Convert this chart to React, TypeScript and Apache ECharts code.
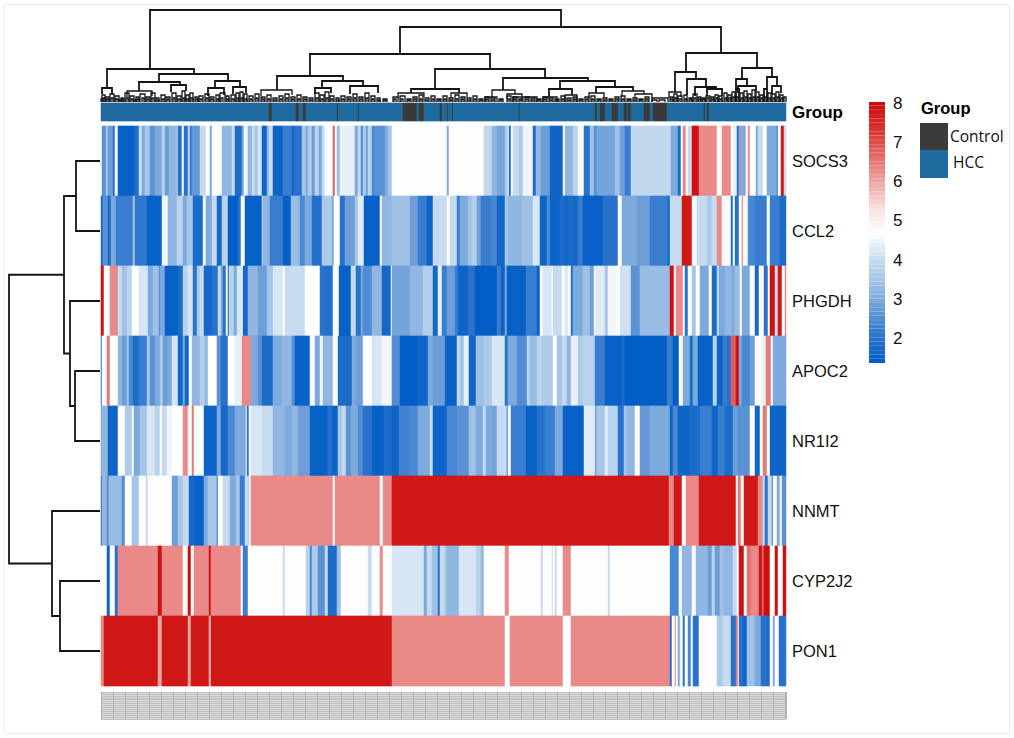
import React, { useEffect, useRef } from "react";
import * as echarts from "echarts";

const sampleCount = 685;
const genes = ["SOCS3", "CCL2", "PHGDH", "APOC2", "NR1I2", "NNMT", "CYP2J2", "PON1"];

// Each row: value, end sample index (exclusive), repeated
const socs3 = [4.7,1,2.6,5,3.5,7,2.8,12,2,14,4.5,17,1.5,34,1.9,38,4,41,3,44,3.5,49,2.6,54,3,61,3.8,64,2.8,68,3.2,76,3.8,77,2,81,4.7,83,2,87,3.8,89,2.2,91,2.7,99,4,105,4.7,109,3,111,4.7,121,3.2,131,4,134,1.8,141,3,143,4.5,147,3.2,151,4,154,3.5,157,4.2,161,1.6,166,3.2,168,4,172,1.6,182,2.2,191,1.6,193,2,201,3.5,205,3,207,3.6,211,2.8,214,3.8,218,3,221,4,224,4.7,232,6.8,234,4.7,236,3.3,239,4.5,241,4.4,254,3,257,4,260,2.4,262,3.6,265,2.8,267,3.8,271,2.4,274,2.6,284,3,287,3.5,291,4.7,346,3,348,4.7,383,3.9,391,3.2,396,2.9,404,3.6,407,4.7,408,1.8,410,4.7,412,4,418,3.6,422,4.5,432,1.8,435,3.2,440,2.8,449,1.6,462,4.7,464,3.2,472,3.8,477,4.6,483,2,489,3.4,493,2.6,496,2.9,514,3.4,519,2.8,524,2.2,530,3.9,570,3,577,1.8,580,4.7,582,6.3,585,4.7,587,4,591,7.9,598,6.3,616,4.7,621,6.3,630,4.7,632,4.4,636,2,638,3,640,6.3,641,3,645,4.7,647,6.3,649,4.7,655,3,657,4,662,4.7,666,3,676,2,677,4.7,680,7.8,683,4,685];
const ccl2 = [1.8,2,2.6,7,1.8,10,3,15,2.2,32,3.5,34,2.1,46,1.5,61,4.5,67,3.2,76,3.8,82,3,86,3.5,92,1.8,102,4.5,105,3,111,4,116,1.7,121,3.8,127,1.4,137,2,140,4.7,144,1.5,161,4,162,3.2,169,2.2,182,1.5,190,3.3,199,2.4,204,3,211,1.9,221,3.6,231,3,233,4.7,239,2,244,2.8,254,3.5,257,4.3,263,1.5,279,4.7,281,3.2,291,3.4,309,2.8,317,2.2,326,1.6,332,4,346,4.7,349,4,356,2.2,359,3,367,3.4,371,3.7,376,2.8,380,2.2,391,2.4,396,1.7,404,3.5,407,3.2,421,3.4,432,4.2,439,1.6,446,2.5,449,1.6,459,1.8,464,1.6,467,1.8,472,1.7,477,2.2,482,1.5,502,2,517,4.7,521,3,536,2.8,549,2.2,567,1.6,569,4,581,7.8,591,4.6,596,4,606,3.6,611,4,616,6.3,621,4.7,630,1.8,632,4.7,634,2,638,4.7,641,6.5,642,4.7,647,2.4,654,2.2,666,4.7,669,2.2,679,1.8,685];
const phgdh = [7.9,3,4.7,9,6.3,17,4,21,3.4,26,3.8,31,4.7,38,4.2,47,3,52,3.4,58,2.4,59,3,64,1.5,77,1.8,82,3.8,87,4.2,92,2,96,3.6,99,4,103,1.7,111,2,117,4,120,3,122,2,125,4.5,127,1.8,128,3.8,133,3,136,4.2,141,4.7,142,1.7,147,3.2,157,2.8,166,3.5,172,4.2,182,4.7,184,4,204,4.7,219,2,224,1.9,232,4.7,238,1.5,250,4,255,2,260,3,262,2.5,271,3.2,281,1.7,290,4.7,291,2.9,309,3.2,322,3.7,332,1.7,337,4.4,341,2.2,346,2.8,354,2.2,357,1.6,367,2,374,1.4,396,2.2,400,1.6,404,3,406,1.5,425,2.2,436,1.5,439,4.7,442,4.2,451,4.7,452,4,461,4.7,464,4.2,467,4.7,470,2,472,3,482,3.4,489,2.8,493,4.7,494,4.3,504,3.5,507,4.5,516,4.7,519,4.1,530,2.6,539,3.3,569,7.9,573,4.7,575,6.3,582,4.7,584,2,587,4.7,591,3.5,595,4.7,599,3,608,4.7,611,1.8,616,4,618,3,624,3.2,631,3,634,3.3,639,4.7,641,3,649,4.7,654,1.7,658,4.7,663,2,667,4.7,669,7.9,674,4,677,7.8,681,4.7,684,6.3,685];
const apoc2 = [2,1,4.7,6,6.5,9,4.7,17,3.2,21,2.8,26,3.5,28,2.4,32,1.8,38,2.2,46,3.5,49,2.6,54,3,59,3.6,62,2.8,67,3,71,4.2,77,1.7,82,3,84,1.6,88,4.7,91,3.2,99,3.7,104,3.2,107,4.7,116,2.6,120,2,127,4.7,134,4.4,141,6.3,150,3,157,2.6,161,1.8,172,3,181,3.2,191,2.5,194,1.5,209,4.7,214,3,219,4.5,222,3.2,232,4.7,237,1.8,251,3,255,2.8,262,4.7,271,4.2,281,4.5,291,2.5,299,1.4,316,1.6,327,3,332,2.8,344,1.7,346,1.5,356,4,359,3.5,363,4.4,368,1.6,375,3.4,383,3.6,391,4.2,404,2,407,3,416,2.5,426,3.8,429,3.3,436,3.8,441,3.6,452,4.7,456,3.5,461,4,466,3.2,470,4.4,477,3.6,482,3.8,494,2.2,504,1.5,521,1.8,524,1.4,566,2.2,572,1.4,578,4.7,582,3,589,1.8,592,3,597,1.5,612,3.8,616,1.6,622,2.2,626,2,630,6.8,635,7.9,638,3,641,2.4,649,2.8,654,4.7,661,4.4,665,6.5,670,4.7,672,3,685];
const nr1i2 = [3,1,3.2,7,1.6,17,4.7,24,3.6,31,4.7,33,3,39,3.5,46,4.2,54,3.8,59,4.7,61,4,66,4.5,71,4.7,82,6.3,87,4.7,91,6.5,93,4.7,103,1.6,116,3,120,1.7,127,2.4,134,3,145,4.7,146,2,148,4.7,150,4.2,161,4,172,3.2,184,3,191,3.2,197,2.8,209,1.5,227,2,231,1.6,237,3.5,241,4,245,2.6,250,3,257,2.5,262,2,271,1.5,283,1.8,291,1.6,298,2.3,309,2.4,317,3,329,4,332,1.6,346,2.4,356,2.6,368,3.4,375,3,382,4,385,3,391,2.9,396,4,406,2.2,407,4.7,410,2.2,425,1.5,436,2,444,2.2,454,3,462,1.5,483,4.3,494,3,496,3.5,504,4.3,507,3.8,517,2,523,3.5,526,3.2,534,4.7,539,2.7,549,3,569,1.6,572,2.4,577,1.6,589,1.8,599,2.2,611,1.6,617,2.2,624,1.8,632,2.8,637,2.6,649,4.7,654,1.6,659,4.7,662,6.5,666,4.7,669,1.6,685];
const nnmt = [2,1,3.2,6,2.6,8,3.3,21,2.5,24,4.7,31,3.5,38,4.7,45,4,47,4.7,71,2.8,77,3.5,82,4,88,1.7,94,1.5,103,3,107,3.5,116,2,117,4.7,122,4,129,3,135,3.5,139,2.2,144,4,149,4.7,150,6.3,232,4.7,234,6.3,279,4.7,282,6.3,291,7.8,568,6.3,573,7.8,581,4.7,585,6.3,598,7.8,635,4.7,637,6.5,640,4.7,643,7.8,657,6.3,662,4,664,2,667,4,671,2.2,672,4.7,676,3,679,4.7,681,2.6,685];
const cyp2j2 = [4.7,6,1.6,9,4.7,14,2,17,6.3,57,7.9,61,6.3,82,4.7,87,7.9,90,4.7,93,6.3,108,7.8,110,6.3,140,4.7,142,2.2,147,4.7,182,4,184,4.7,205,3.8,209,2.4,211,3.6,217,2.6,224,4,227,1.8,236,3.4,240,4.7,267,4,271,4.7,279,6.3,282,4.7,291,4.2,323,3,326,4,331,3.4,337,2,339,4,344,3.5,346,3.2,358,4.2,375,3.8,380,3.2,383,4.7,404,6.3,408,4.7,440,4,442,4.7,451,4,452,4.7,454,4,456,4.7,462,6.3,470,4.7,507,4,509,4.7,569,2.4,578,4.7,581,3.2,591,4.7,595,3.2,607,2.8,611,3.8,614,2.8,619,3.4,623,3.2,632,4,636,4.7,638,7.9,643,4.7,646,6.6,650,6.3,658,7.9,661,6.8,663,7.9,669,4.7,674,7.9,677,4.7,682,7.9,685];
const pon1 = [6.3,3,7.8,57,6,61,7.8,87,6,90,7.8,108,5.8,110,7.8,291,6.3,404,4.7,409,6.3,462,4.7,470,6.3,569,2,571,4.7,574,6.5,575,4.7,577,3,579,4.5,582,2,584,4.7,587,2.4,590,4.7,592,2,598,4.7,616,3.6,622,4,630,2,635,6.5,637,4.7,638,2,642,1.6,646,3.4,654,3,660,2,666,1.8,669,4.7,672,3,674,4.7,678,2,685];
const geneRuns = [socs3, ccl2, phgdh, apoc2, nr1i2, nnmt, cyp2j2, pon1];

// Samples belonging to the Control group: start, end (exclusive)
const controlRanges = [168,171,195,198,202,205,236,237,257,258,302,316,318,323,339,341,346,347,351,352,418,419,494,496,499,504,511,517,523,526,527,530,543,549,552,566,603,604,606,608];

// Column dendrogram merges: left sample, right sample, height, left child height, right child height
const columnMerges = [
  [49,460,92,33,75],[299,620,75,48,49],[6,93,33,14,28],[58,127,28,20,21],[38,79,20,11,17],[26,51,11,5,6],[70,85,17,10,11],
  [114,139,21,14,15],[107,123,14,6,7],[132,145,15,8,9],[1,11,14,8,8],[209,389,48,26,33],[176,242,26,12,21],[160,191,12,6,7],
  [221,262,21,14,16],[214,230,14,8,9],[249,277,16,8,9],[334,444,33,13,24],[310,358,13,9,9],[297,323,9,4,5],[350,366,9,4,5],
  [402,487,24,12,21],[391,414,12,5,8],[384,396,5,0,0],[406,421,8,3,3],[412,436,5,0,0],[459,514,21,13,15],[448,471,13,5,7],
  [442,456,5,0,0],[464,476,7,0,0],[495,532,15,9,11],[488,503,9,4,4],[521,543,11,5,8],[534,551,8,4,4],[551,567,4,0,0],
  [585,656,49,30,34],[574,595,30,10,23],[586,605,23,7,15],[594,615,15,6,13],[606,621,13,6,6],[568,580,10,4,5],[641,671,34,23,25],
  [635,646,23,13,16],[637,655,16,9,11],[666,676,25,13,16],[671,680,16,8,9],
];
// Small low clusters along the base of the column dendrogram: left, right, height
const leafClusters = [1,4,7,5,8,5,9,13,8,14,18,6,20,22,4,24,28,9,29,33,6,35,38,5,39,44,8,45,49,5,50,54,9,55,58,4,60,64,7,65,69,5,71,75,9,76,80,6,81,84,11,85,88,7,89,92,9,94,97,5,98,102,6,104,108,8,109,113,5,115,118,7,119,124,9,125,128,6,130,134,7,135,138,9,139,142,10,143,146,8,148,152,6,154,158,8,160,164,5,166,170,7,172,176,4,178,182,6,184,188,8,190,194,5,196,200,7,202,206,5,208,212,4,214,218,9,219,223,7,224,228,10,229,233,6,235,238,4,240,244,6,246,250,5,252,256,8,258,262,5,264,268,9,270,274,6,276,279,4,282,286,3,292,297,5,299,304,6,306,310,3,312,316,5,318,322,7,324,328,4,330,334,6,336,340,3,342,346,6,348,352,4,354,358,7,360,364,5,366,370,4,372,376,6,378,382,3,384,388,5,390,394,4,398,402,3,406,410,6,412,416,5,418,422,3,424,428,5,430,434,4,436,440,3,442,446,5,448,452,4,454,458,3,460,464,6,466,470,4,472,476,5,478,482,3,484,488,5,490,494,6,496,500,3,502,506,4,508,512,3,514,518,5,520,524,6,526,530,3,532,536,4,538,542,3,544,548,5,551,556,2,558,564,2,569,572,5,573,576,8,577,581,6,583,586,7,588,591,4,592,596,8,597,600,5,601,604,4,605,609,6,610,613,5,614,617,7,618,621,6,623,626,9,627,630,7,631,634,10,635,638,13,639,642,9,643,646,11,647,650,8,651,654,12,655,658,10,659,662,7,663,666,13,667,670,9,671,674,8,675,678,10,679,682,7,683,685,5];
// Lowest twigs: first sample, height (each spans two samples)
const twigs = [0,3,2,4,6,3,10,4,15,3,18,2,21,3,25,4,30,3,33,2,36,3,41,4,46,3,51,4,56,2,61,3,66,3,72,4,77,3,82,4,86,3,90,4,95,3,99,3,105,4,110,3,116,3,120,4,126,3,131,3,136,4,140,4,144,3,149,3,155,4,161,3,167,3,173,2,179,3,185,4,191,3,197,3,203,3,209,2,215,4,220,3,225,4,230,3,236,2,241,3,247,3,253,4,259,3,265,4,271,3,277,2,283,2,293,3,300,3,307,2,313,3,319,3,325,2,331,3,337,2,343,3,349,2,355,3,361,3,367,2,373,3,379,2,385,3,391,2,399,2,407,3,413,3,419,2,425,3,431,2,437,2,443,3,449,2,455,2,461,3,467,2,473,3,479,2,485,3,491,3,497,2,503,2,509,2,515,3,521,3,527,2,533,2,539,2,545,3,570,3,574,4,578,3,584,3,589,3,593,4,598,3,602,3,606,4,611,3,615,4,619,3,624,4,628,4,632,5,636,5,640,4,644,5,648,4,652,5,656,5,660,4,664,5,668,4,672,4,676,5,680,4];

// Row dendrogram merges: upper row position, lower row position, height, upper child height, lower child height
const rowMerges = [
  [0.5,1.5,25,1,1],[3.5,4.5,26,1,1],[2.5,4,31,1,26],[1,3.25,37,25,31],[6.5,7.5,41,1,1],[5.5,7,49,1,41],[2.125,6.25,92,37,49],
];

const colorStops = ["#005cc4","#2a74cc","#6397d6","#9dbfe4","#c8dcf0","#ffffff","#f9dede","#eda5a3","#e36a68","#da3330","#cc0c0c"];
const scaleMin = 1.36;
const scaleMax = 8;
const colorbarTicks = [2,3,4,5,6,7,8];
const colorbarLevels = [1.36,1.47,1.58,1.69,1.8,1.91,2.02,2.13,2.24,2.35,2.46,2.57,2.68,2.79,2.9,3.01,3.12,3.23,3.34,3.45,3.56,3.67,3.78,3.89,4,4.11,4.22,4.33,4.44,4.55,4.66,4.77,4.88,4.99,5.1,5.21,5.32,5.43,5.54,5.65,5.76,5.87,5.98,6.09,6.2,6.31,6.42,6.53,6.64,6.75,6.86,6.97,7.08,7.19,7.3,7.41,7.52,7.63,7.74,7.85,7.96];

const groupNames = ["Control", "HCC"];
const groupColors = ["#3a3a3a", "#1f6a9e"];

function expand(runs: number[]): number[] {
  const out: number[] = [];
  for (let i = 0; i < runs.length; i += 2) {
    while (out.length < runs[i + 1]) out.push(runs[i]);
  }
  return out;
}

function buildOption() {
  const cells: number[][] = [];
  geneRuns.forEach((runs, r) => {
    expand(runs).forEach((v, c) => cells.push([c, r, v]));
  });
  const isControl = new Array(sampleCount).fill(0);
  for (let i = 0; i < controlRanges.length; i += 2) {
    for (let c = controlRanges[i]; c < controlRanges[i + 1]; c++) isControl[c] = 1;
  }
  const groupCells = isControl.map((v: number, c: number) => [c, 0, v]);
  const sampleIds = Array.from({ length: sampleCount }, (_, i) => String(i));

  const topData: number[][] = [...columnMerges];
  for (let i = 0; i < leafClusters.length; i += 3) {
    topData.push([leafClusters[i], leafClusters[i + 1], leafClusters[i + 2], 0, 0]);
  }
  for (let i = 0; i < twigs.length; i += 2) {
    topData.push([twigs[i], twigs[i] + 2, twigs[i + 1], 0, 0]);
  }
  const levelData = colorbarLevels.map((lo, i) => [lo, colorbarLevels[i + 1] ?? 8.05, lo + 0.055]);

  const hiddenAxis = { show: false };
  const font = "Liberation Sans";
  const lineStyle = { stroke: "#141414", fill: "none" };

  return {
    animation: false,
    backgroundColor: "#ffffff",
    textStyle: { fontFamily: font },
    grid: [
      { left: 101, top: 126, width: 685, height: 560 },
      { left: 101, top: 103, width: 685, height: 18 },
      { left: 101, top: 2, width: 685, height: 100 },
      { left: 0, top: 126, width: 101, height: 560 },
      { left: 869, top: 102, width: 16, height: 261 },
      { left: 101, top: 692, width: 685, height: 27, show: true, backgroundColor: "#dcdcdc", borderWidth: 0 },
    ],
    xAxis: [
      { gridIndex: 0, type: "category", data: sampleIds, ...hiddenAxis },
      { gridIndex: 1, type: "category", data: sampleIds, ...hiddenAxis },
      { gridIndex: 2, type: "value", min: 0, max: sampleCount, ...hiddenAxis },
      { gridIndex: 3, type: "value", min: 0, max: 101, inverse: true, ...hiddenAxis },
      { gridIndex: 4, type: "value", min: 0, max: 1, ...hiddenAxis },
      {
        gridIndex: 5, type: "value", min: 0, max: sampleCount, interval: 12,
        axisLine: { show: false }, axisTick: { show: false }, axisLabel: { show: false },
        splitLine: { show: true, lineStyle: { color: "#b0b0b0", width: 1 } },
      },
    ],
    yAxis: [
      {
        gridIndex: 0, type: "category", inverse: true, data: genes, position: "right",
        axisLine: { show: false }, axisTick: { show: false },
        axisLabel: { color: "#111", fontSize: 16.5, margin: 6, fontFamily: font },
      },
      {
        gridIndex: 1, type: "category", data: ["Group"], position: "right",
        axisLine: { show: false }, axisTick: { show: false },
        axisLabel: { color: "#000", fontSize: 17, fontWeight: "bold", margin: 6, fontFamily: font },
      },
      { gridIndex: 2, type: "value", min: 0, max: 100, ...hiddenAxis },
      { gridIndex: 3, type: "value", min: 0, max: 8, inverse: true, ...hiddenAxis },
      {
        gridIndex: 4, type: "value", min: scaleMin, max: 8.05, position: "right",
        axisLine: { show: false }, axisTick: { show: false }, splitLine: { show: false },
        axisLabel: { customValues: colorbarTicks, color: "#111", fontSize: 17, margin: 8, fontFamily: font },
      },
      {
        gridIndex: 5, type: "value", min: 0, max: 28, interval: 2,
        axisLine: { show: false }, axisTick: { show: false }, axisLabel: { show: false },
        splitLine: { show: true, lineStyle: { color: "#c0c0c0", width: 1 } },
      },
    ],
    visualMap: [
      { type: "continuous", show: false, min: scaleMin, max: scaleMax, dimension: 2, seriesIndex: [0, 2], inRange: { color: colorStops } },
      {
        type: "piecewise", show: false, dimension: 2, seriesIndex: 1,
        pieces: [{ value: 1, color: groupColors[0] }, { value: 0, color: groupColors[1] }],
      },
    ],
    series: [
      { type: "heatmap", xAxisIndex: 0, yAxisIndex: 0, data: cells, progressive: 0, silent: true },
      { type: "heatmap", xAxisIndex: 1, yAxisIndex: 1, data: groupCells, progressive: 0, silent: true },
      {
        type: "custom", xAxisIndex: 4, yAxisIndex: 4, data: levelData, silent: true,
        encode: { y: [0, 1] },
        renderItem: (_: any, api: any) => {
          const a = api.coord([0, api.value(0)]);
          const b = api.coord([1, api.value(1)]);
          return {
            type: "rect",
            shape: { x: a[0], y: b[1], width: b[0] - a[0], height: a[1] - b[1] },
            style: { fill: api.visual("color") },
          };
        },
      },
      {
        type: "custom", xAxisIndex: 2, yAxisIndex: 2, data: topData, silent: true,
        encode: { x: [0, 1], y: [2, 3, 4] },
        renderItem: (_: any, api: any) => {
          const [x1, x2, h, h1, h2] = [0, 1, 2, 3, 4].map((d) => api.value(d));
          const pts = [api.coord([x1, h1]), api.coord([x1, h]), api.coord([x2, h]), api.coord([x2, h2])];
          const width = h > 12 ? 1.8 : 1.3;
          return { type: "polyline", shape: { points: pts }, style: { ...lineStyle, lineWidth: width } };
        },
      },
      {
        type: "custom", xAxisIndex: 3, yAxisIndex: 3, data: rowMerges, silent: true,
        encode: { y: [0, 1], x: [2, 3, 4] },
        renderItem: (_: any, api: any) => {
          const [y1, y2, h, h1, h2] = [0, 1, 2, 3, 4].map((d) => api.value(d));
          const pts = [api.coord([h1, y1]), api.coord([h, y1]), api.coord([h, y2]), api.coord([h2, y2])];
          return { type: "polyline", shape: { points: pts }, style: { ...lineStyle, lineWidth: 1.8 } };
        },
      },
    ],
    graphic: [
      { type: "rect", silent: true, shape: { x: 4.5, y: 4.5, width: 1005, height: 729 }, style: { fill: "none", stroke: "#eeeeee", lineWidth: 1 } },
      { type: "text", x: 921, y: 99, style: { text: "Group", fontFamily: font, fontWeight: "bold", fontSize: 16.5, fill: "#000" } },
      { type: "rect", shape: { x: 920, y: 123, width: 28, height: 27 }, style: { fill: groupColors[0] } },
      { type: "rect", shape: { x: 920, y: 150, width: 28, height: 28 }, style: { fill: groupColors[1] } },
      { type: "text", x: 950, y: 128, style: { text: groupNames[0], fontFamily: "Open Sans", fontSize: 15.5, fill: "#111" } },
      { type: "text", x: 953, y: 154, style: { text: groupNames[1], fontFamily: "Open Sans", fontSize: 15.5, fill: "#111" } },
    ],
  };
}

export default function App() {
  const ref = useRef<HTMLDivElement>(null);
  useEffect(() => {
    if (!ref.current) return;
    const chart = echarts.init(ref.current, undefined, { renderer: "svg" });
    chart.setOption(buildOption() as any);
    return () => chart.dispose();
  }, []);
  return <div ref={ref} style={{ position: "fixed", left: 0, top: 0, width: 1014, height: 738 }} />;
}
